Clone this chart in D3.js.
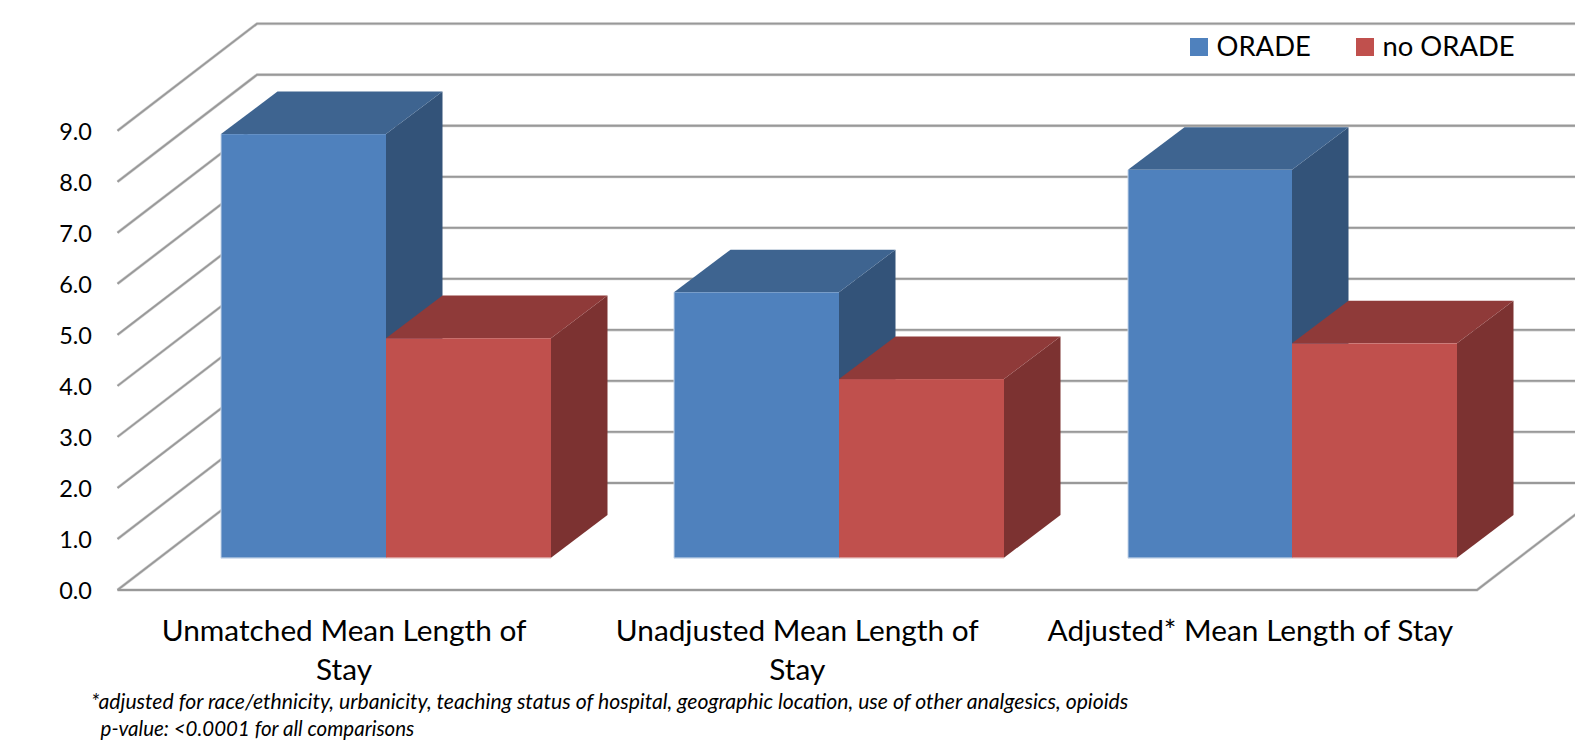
<!DOCTYPE html>
<html>
<head>
<meta charset="utf-8">
<script src="https://cdnjs.cloudflare.com/ajax/libs/d3/7.8.5/d3.min.js"></script>
<style>
html,body{margin:0;padding:0;background:#fff;overflow:hidden}
svg{display:block}
text{font-family:Lato,"Open Sans",sans-serif;fill:#000}
</style>
</head>
<body>
<svg id="chart" width="1575" height="744"></svg>
<script>
// Mean length of stay by group, drawn as an oblique 3-D column chart.
const categories = ["Unmatched Mean Length of Stay", "Unadjusted Mean Length of Stay", "Adjusted* Mean Length of Stay"];
const categoryLines = [["Unmatched Mean Length of", "Stay"], ["Unadjusted Mean Length of", "Stay"], ["Adjusted* Mean Length of Stay"]];
const seriesNames = ["ORADE", "no ORADE"];
const oradeValues = [8.3, 5.2, 7.6];
const noOradeValues = [4.3, 3.5, 4.2];
const yTicks = [0, 1, 2, 3, 4, 5, 6, 7, 8, 9];
const footnotes = ["*adjusted for race/ethnicity, urbanicity, teaching status of hospital, geographic location, use of other analgesics, opioids", "  p-value: <0.0001 for all comparisons"];

const frontColors = ["#4f81bd", "#c0504d"];
const topColors = ["#3e6490", "#8f3a39"];
const sideColors = ["#335379", "#7c3231"];
const edgeColors = ["#c4d4e8", "#e8c8c7"];
const gridColor = "#999999";
const gridHalo = "#d4d4d4";

const svg = d3.select("#chart");

// Front plane of the plot box, plus the offsets of the oblique projection.
const y = d3.scaleLinear().domain([0, 9]).range([590, 130.7]);
const wall = {dx: 139.5, dy: -107};
const barPlane = {dx: 42, dy: -32.3};
const barDepth = {dx: 56.5, dy: -42.7};
const plotLeft = 117.5, plotRight = 1477;

const xLabel = d3.scaleBand().domain(categories).range([plotLeft, plotRight]);
const x0 = d3.scaleBand().domain(categories)
  .range([plotLeft + barPlane.dx, plotRight + barPlane.dx])
  .paddingInner(0.2727).paddingOuter(0.1364);
const x1 = d3.scaleBand().domain(seriesNames).range([0, x0.bandwidth()]);
const left = d => Math.round(x0(d.category) + x1(seriesNames[d.series]));
const right = d => Math.round(x0(d.category) + x1(seriesNames[d.series]) + x1.bandwidth());

// Wall and floor grid: a diagonal on the side wall, then a horizontal along the back.
const gridPath = d => d3.line()([
  [plotLeft, y(d)],
  [plotLeft + wall.dx, y(d) + wall.dy],
  [1575, y(d) + wall.dy]
]);
const floorPath = d3.line()([
  [plotLeft, y(0)],
  [plotRight, y(0)],
  [plotRight + wall.dx, y(0) + wall.dy]
]);
[[gridHalo, 3], [gridColor, 1.8]].forEach(([colour, width]) => {
  const grid = svg.append("g").attr("fill", "none").attr("stroke", colour).attr("stroke-width", width);
  grid.selectAll("path").data(yTicks).join("path").attr("d", gridPath);
  grid.append("path").attr("d", floorPath);
});

// Columns: each box is a side face, a top face and a front face with a pale edge.
const rows = categories.flatMap((c, i) => [
  {category: c, series: 0, value: oradeValues[i]},
  {category: c, series: 1, value: noOradeValues[i]}
]);
const base = v => y(v) + barPlane.dy;
const boxes = svg.append("g").selectAll("g").data(rows).join("g");
boxes.append("path").attr("fill", d => sideColors[d.series]).attr("d", d => {
  const r = right(d);
  return d3.line()([[r, base(d.value)], [r + barDepth.dx, base(d.value) + barDepth.dy],
    [r + barDepth.dx, base(0) + barDepth.dy], [r, base(0)]]) + "Z";
});
boxes.append("path").attr("fill", d => topColors[d.series]).attr("d", d => {
  const l = left(d), r = right(d);
  return d3.line()([[l, base(d.value)], [l + barDepth.dx, base(d.value) + barDepth.dy],
    [r + barDepth.dx, base(d.value) + barDepth.dy], [r, base(d.value)]]) + "Z";
});
boxes.append("rect")
  .attr("fill", d => frontColors[d.series])
  .attr("x", left)
  .attr("width", d => right(d) - left(d))
  .attr("y", d => base(d.value))
  .attr("height", d => base(0) - base(d.value));
boxes.append("path")
  .attr("fill", "none").attr("stroke", d => edgeColors[d.series]).attr("stroke-width", 1)
  .attr("d", d => d.series === 0
    ? d3.line()([[left(d), base(d.value)], [left(d), base(0) + 0.5], [right(d), base(0) + 0.5]])
    : d3.line()([[left(d), base(0) + 0.5], [right(d), base(0) + 0.5]]));

// Value axis: labels only, the grid already carries the lines.
const axis = svg.append("g")
  .attr("transform", "translate(92,0)")
  .call(d3.axisLeft(y).tickValues(yTicks).tickFormat(d3.format(".1f")).tickSize(0).tickPadding(0));
axis.select(".domain").remove();
axis.selectAll("text").attr("font-size", 23.5).attr("dy", "0.37em").style("font-family", "Lato,sans-serif");

// Category labels, wrapped as in the chart.
const labels = svg.append("g").attr("font-size", 29.8).attr("text-anchor", "middle");
labels.selectAll("text").data(categories.flatMap((c, i) => categoryLines[i].map((t, k) => ({c, t, k})))).join("text")
  .attr("x", d => xLabel(d.c) + xLabel.bandwidth() / 2)
  .attr("y", d => 641 + d.k * 39)
  .text(d => d.t);

// Legend in the top right corner.
const legend = svg.append("g");
const legendX = d3.scaleOrdinal().domain(seriesNames).range([1190, 1356]);
legend.selectAll("rect").data(seriesNames).join("rect")
  .attr("x", d => legendX(d)).attr("y", 38).attr("width", 18).attr("height", 18)
  .attr("fill", (d, i) => frontColors[i]);
legend.selectAll("text").data(seriesNames).join("text")
  .attr("x", d => legendX(d) + 26.5).attr("y", 56).attr("font-size", 27.4).text(d => d);

// Footnotes beneath the axis.
svg.append("g").attr("font-style", "italic")
  .selectAll("text").data(footnotes).join("text")
  .attr("font-size", (d, i) => i === 0 ? 21.2 : 20.5)
  .attr("x", 91).attr("y", (d, i) => 709 + i * 26.5)
  .style("white-space", "pre").text(d => d);
</script>
</body>
</html>
